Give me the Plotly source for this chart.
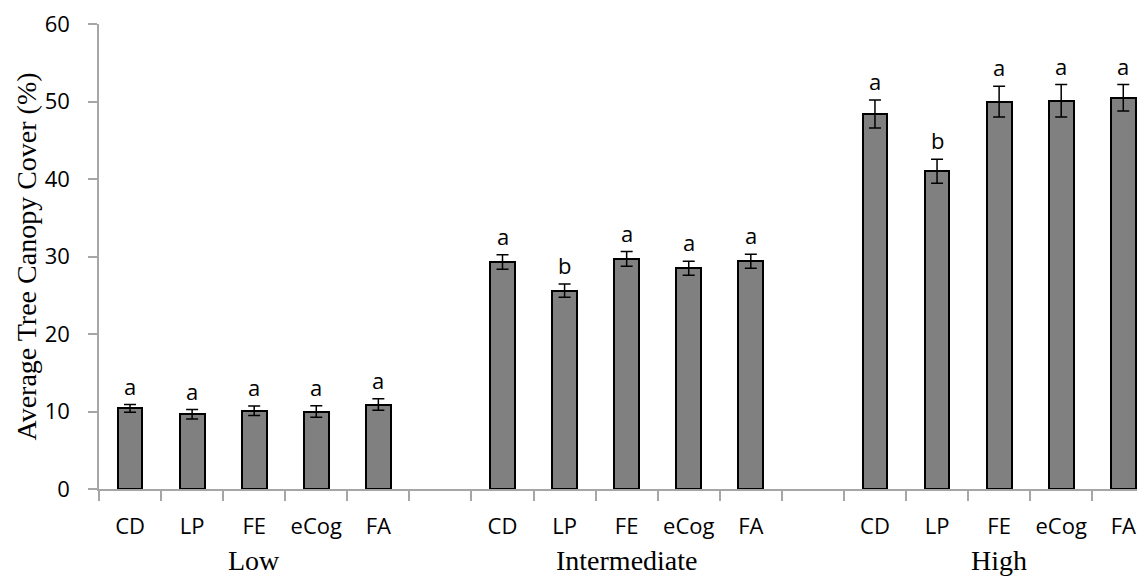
import plotly.graph_objects as go

groups = ["Low", "Intermediate", "High"]
methods = ["CD", "LP", "FE", "eCog", "FA"]

low_mean = [10.4, 9.65, 10.1, 10.0, 10.9]
low_err = [0.5, 0.6, 0.6, 0.75, 0.75]
low_letters = ["a", "a", "a", "a", "a"]

int_mean = [29.3, 25.6, 29.7, 28.5, 29.4]
int_err = [0.95, 0.85, 0.95, 0.9, 0.9]
int_letters = ["a", "b", "a", "a", "a"]

high_mean = [48.4, 41.0, 50.0, 50.1, 50.5]
high_err = [1.8, 1.55, 2.0, 2.1, 1.7]
high_letters = ["a", "b", "a", "a", "a"]

means = [low_mean, int_mean, high_mean]
errs = [low_err, int_err, high_err]
letters = [low_letters, int_letters, high_letters]

slot = len(methods) + 1  # one blank slot between groups
xpos, ymean, yerr, lets, ticktext = [], [], [], [], []
for g in range(len(groups)):
    for i, m in enumerate(methods):
        xpos.append(g * slot + i)
        ymean.append(means[g][i])
        yerr.append(errs[g][i])
        lets.append(letters[g][i])
        ticktext.append(m)

n_slots = len(groups) * slot - 1
boundaries = [k - 0.5 for k in range(n_slots + 1)]
y_ticks = [0, 10, 20, 30, 40, 50, 60]

fig = go.Figure()
fig.add_trace(go.Bar(
    x=xpos, y=ymean, width=0.4,
    marker=dict(color="#808080", line=dict(color="black", width=2)),
    error_y=dict(type="data", array=yerr, color="black", thickness=1.5, width=6),
    showlegend=False,
))

sans = "Open Sans"
serif = "Liberation Serif"

for x, y, e, t in zip(xpos, ymean, yerr, lets):
    fig.add_annotation(x=x, y=y + e, text=t, showarrow=False, yanchor="middle",
                       yshift=19, font=dict(family=sans, size=22, color="black"))

for g, name in enumerate(groups):
    fig.add_annotation(x=g * slot + (len(methods) - 1) / 2, xref="x", y=0, yref="paper",
                       text=name, showarrow=False, yanchor="middle", yshift=-71,
                       font=dict(family=serif, size=28, color="black"))

fig.add_annotation(x=0, xref="paper", xshift=-73, y=0.5, yref="paper",
                   text="Average Tree Canopy Cover (%)", textangle=-90, showarrow=False,
                   xanchor="center", yanchor="middle",
                   font=dict(family=serif, size=28, color="black"))

fig.update_layout(
    width=1137, height=568,
    margin=dict(l=91, r=0, t=16, b=87),
    plot_bgcolor="white", paper_bgcolor="white",
    bargap=0,
)
fig.update_xaxes(
    range=[-0.5, n_slots - 0.65],
    tickmode="array", tickvals=xpos, ticktext=ticktext,
    ticks="outside", ticklen=9, tickcolor="rgba(0,0,0,0)",
    ticklabelstandoff=8,
    tickfont=dict(family=sans, size=22, color="black"),
    showline=True, linecolor="#A6A6A6", linewidth=1.5,
    showgrid=False, zeroline=False,
    minor=dict(tickmode="array", tickvals=boundaries, ticks="outside", ticklen=10,
               tickcolor="#A6A6A6", tickwidth=1.5, showgrid=False),
)
fig.update_yaxes(
    range=[0, 60.02], tickmode="array", tickvals=y_ticks,
    ticktext=[str(v) for v in y_ticks],
    ticks="outside", ticklen=9, tickcolor="#A6A6A6", tickwidth=1.5,
    ticklabelstandoff=14, ticklabeloverflow="allow",
    tickfont=dict(family=sans, size=22, color="black"),
    showline=True, linecolor="#A6A6A6", linewidth=1.5,
    showgrid=False, zeroline=False,
)

fig.write_html("out.html")
